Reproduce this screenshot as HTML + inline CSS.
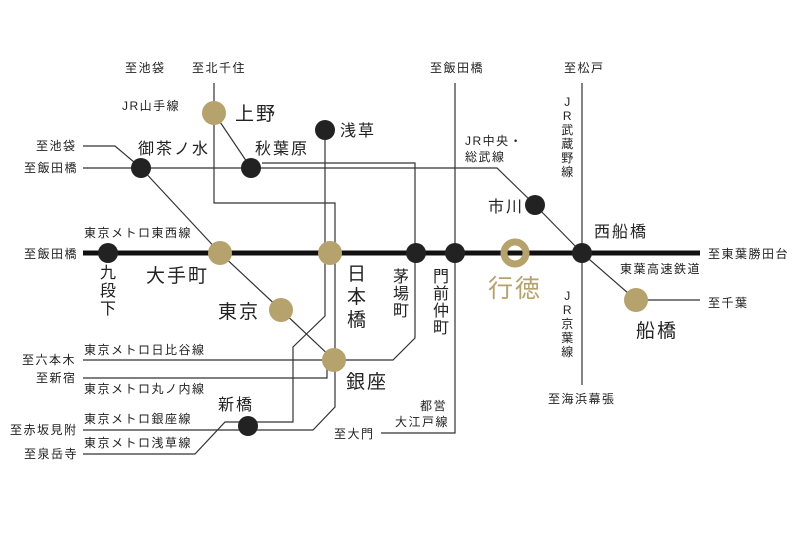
<!DOCTYPE html>
<html><head><meta charset="utf-8"><style>
body{margin:0;background:#fff}
svg text{font-family:"Liberation Sans","Noto Sans CJK JP",sans-serif;fill:#222}
.s{font-size:12px;letter-spacing:1.5px}
.m{font-size:16px;letter-spacing:2px}
.l{font-size:19px;letter-spacing:2px}
</style></head><body>
<svg width="800" height="533" viewBox="0 0 800 533" xmlns="http://www.w3.org/2000/svg">
<g fill="none" stroke="#333" stroke-width="1.2">
<!-- Chuo-Sobu -->
<polyline points="83,168 497,168 535,205 582,253 636,300"/>
<polyline points="83,146 115,146 141,168"/>
<!-- Hibiya -->
<polyline points="262,163 415,163 415,338 393,360 83,360"/>
<!-- Marunouchi -->
<polyline points="141,168 220,253 281,310 334,360"/>
<polyline points="327,360 327,378 83,378"/>
<!-- Yamanote/Ginza -->
<polyline points="214,83 214,203 335,203 335,407 313,430 83,430"/>
<line x1="214" y1="113" x2="251" y2="168"/>
<!-- Asakusa -->
<polyline points="325,130 325,316 293,347 293,422 225,422 195,454 83,454"/>
<!-- Oedo -->
<polyline points="455,83 455,433 381,433"/>
<!-- Musashino/Keiyo -->
<line x1="582" y1="83" x2="582" y2="385"/>
<line x1="636" y1="300" x2="700" y2="300"/>
</g>
<line x1="83" y1="253" x2="700" y2="253" stroke="#111" stroke-width="5"/>
<g fill="#222">
<circle cx="108" cy="253" r="10"/><circle cx="416" cy="253" r="10"/><circle cx="455" cy="253" r="10"/><circle cx="582" cy="253" r="10"/>
<circle cx="141" cy="168" r="10"/><circle cx="251" cy="168" r="10"/><circle cx="325" cy="130" r="10"/><circle cx="535" cy="205" r="10"/><circle cx="248" cy="426" r="10"/>
</g>
<g fill="#b5a26d">
<circle cx="220" cy="253" r="12"/><circle cx="330" cy="253" r="12"/><circle cx="281" cy="310" r="12"/><circle cx="334" cy="360" r="12"/><circle cx="214" cy="113" r="12"/><circle cx="636" cy="300" r="12"/>
</g>
<circle cx="515" cy="253" r="11" fill="none" stroke="#b5a26d" stroke-width="7"/>
<text class="s" x="125" y="72">至池袋</text>
<text class="s" x="192" y="72">至北千住</text>
<text class="s" x="122" y="110">JR山手線</text>
<text class="l" x="235" y="120">上野</text>
<text class="m" x="340" y="136">浅草</text>
<text class="s" x="36" y="150">至池袋</text>
<text class="m" x="138" y="154">御茶ノ水</text>
<text class="m" x="255" y="154">秋葉原</text>
<text class="s" x="24" y="172">至飯田橋</text>
<text class="s" x="84" y="237">東京メトロ東西線</text>
<text class="s" x="24" y="258">至飯田橋</text>
<text class="m" x="100" y="278">九</text><text class="m" x="100" y="296">段</text><text class="m" x="100" y="314">下</text>
<text class="l" x="146" y="282">大手町</text>
<text class="l" x="218" y="318">東京</text>
<text class="l" x="347" y="280">日</text><text class="l" x="347" y="303">本</text><text class="l" x="347" y="326">橋</text>
<text class="m" x="393" y="282">茅</text><text class="m" x="393" y="299">場</text><text class="m" x="393" y="316">町</text>
<text class="m" x="433" y="282">門</text><text class="m" x="433" y="299">前</text><text class="m" x="433" y="316">仲</text><text class="m" x="433" y="333">町</text>
<text x="488" y="297" style="font-size:25px;letter-spacing:2px;fill:#b5a26d">行徳</text>
<text class="s" x="84" y="354">東京メトロ日比谷線</text>
<text class="s" x="22" y="364">至六本木</text>
<text class="s" x="36" y="382">至新宿</text>
<text class="s" x="84" y="393">東京メトロ丸ノ内線</text>
<text class="l" x="346" y="388">銀座</text>
<text class="m" x="218" y="410">新橋</text>
<text class="s" x="84" y="423">東京メトロ銀座線</text>
<text class="s" x="10" y="434">至赤坂見附</text>
<text class="s" x="84" y="447">東京メトロ浅草線</text>
<text class="s" x="24" y="458">至泉岳寺</text>
<text class="s" x="420" y="410">都営</text>
<text class="s" x="395" y="426">大江戸線</text>
<text class="s" x="334" y="438">至大門</text>
<text class="s" x="430" y="72">至飯田橋</text>
<text class="s" x="564" y="72">至松戸</text>
<text class="s" x="465" y="145">JR中央・</text>
<text class="s" x="465" y="161">総武線</text>
<g class="s" text-anchor="middle"><text x="568" y="106">J</text><text x="568" y="120">R</text><text x="568" y="134">武</text><text x="568" y="148">蔵</text><text x="568" y="162">野</text><text x="568" y="176">線</text>
<text x="568" y="300">J</text><text x="568" y="314">R</text><text x="568" y="328">京</text><text x="568" y="342">葉</text><text x="568" y="356">線</text></g>
<text class="m" x="488" y="212">市川</text>
<text class="m" x="594" y="237">西船橋</text>
<text class="s" x="708" y="258">至東葉勝田台</text>
<text class="s" x="620" y="273">東葉高速鉄道</text>
<text class="s" x="708" y="307">至千葉</text>
<text class="l" x="636" y="337">船橋</text>
<text class="s" x="548" y="403">至海浜幕張</text>
</svg>
</body></html>
